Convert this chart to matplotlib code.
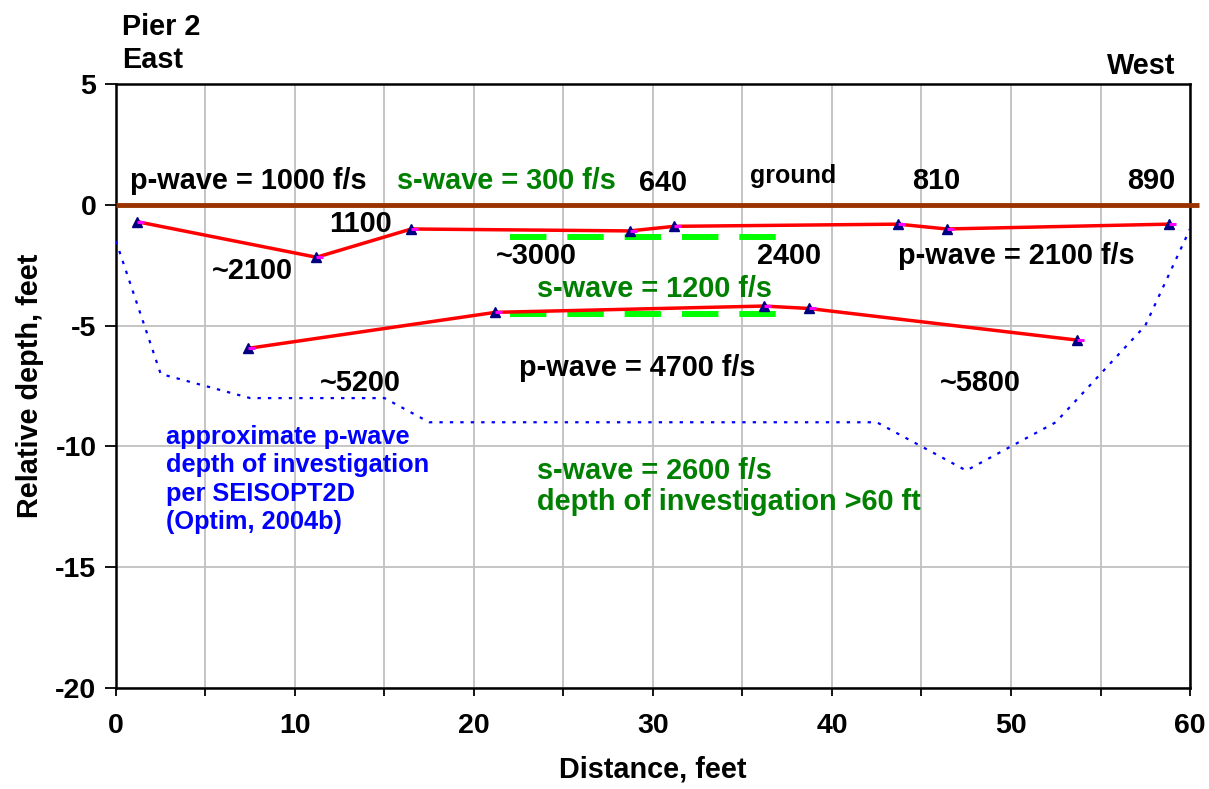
import numpy as np
import matplotlib.pyplot as plt
from matplotlib.ticker import MultipleLocator

plt.rcParams['font.family'] = ['Liberation Sans', 'DejaVu Sans']
plt.rcParams['font.weight'] = 'bold'
plt.rcParams['axes.unicode_minus'] = False

# upper refractor (p-wave picks)
upper_x = [1.2, 11.2, 16.5, 28.7, 31.2, 43.7, 46.4, 58.8]
upper_y = [-0.70, -2.17, -1.00, -1.08, -0.89, -0.80, -1.00, -0.80]
# lower refractor
lower_x = [7.4, 21.2, 36.2, 38.7, 53.7]
lower_y = [-5.94, -4.45, -4.19, -4.29, -5.60]
# s-wave boundaries
swave_x = [22.0, 37.0]
swave_upper_y = [-1.32, -1.32]
swave_lower_y = [-4.52, -4.52]
# approximate depth of investigation
doi_x = [0, 2.5, 7.5, 15, 17.5, 42.5, 47.5, 52.5, 57.5, 60]
doi_y = [-1.5, -7, -8, -8, -9, -9, -11, -9, -5, -1]
ground_x = [0, 60.5]
ground_y = [0, 0]

FS = 20.8

fig = plt.figure(figsize=(12.09, 7.89), dpi=100)
ax = fig.add_axes([0.0959, 0.128, 0.8884, 0.7655])

ax.set_xlim(0, 60)
ax.set_ylim(-20, 5)
ax.xaxis.set_major_locator(MultipleLocator(10))
ax.xaxis.set_minor_locator(MultipleLocator(5))
ax.yaxis.set_major_locator(MultipleLocator(5))
ax.grid(True, which='both', color='#c0c0c0', lw=1.3)
ax.set_axisbelow(True)
ax.tick_params(axis='both', which='both', direction='out', width=1.3, labelsize=20.5)
ax.tick_params(axis='x', which='both', length=6, pad=12)
ax.tick_params(axis='y', length=8, pad=6)
for s in ax.spines.values():
    s.set_linewidth(1.8)

ax.plot(ground_x, ground_y, color='#993300', lw=3.5, solid_capstyle='butt', clip_on=False, zorder=3)
ax.plot(doi_x, doi_y, color='#0000ff', lw=1.6, ls=(0, (1.5, 3.2)), zorder=3)

lw_s = 4.3
for yy in (swave_upper_y, swave_lower_y):
    ax.plot(swave_x, yy, color='#00ff00', lw=lw_s, ls=(0, (6.1, 3.5)), solid_capstyle='butt',
            dash_capstyle='butt', zorder=3)

tick_marker = [(0, 0), (1, 0)]
for xx, yy in ((upper_x, upper_y), (lower_x, lower_y)):
    ax.plot(xx, yy, color='#ff0000', lw=2.5, zorder=4)
    ax.plot(xx, yy, ls='none', marker='^', ms=7.5, mfc='#000080', mec='#000080', zorder=5)
    ax.plot(xx, yy, ls='none', marker=tick_marker, ms=10, mec='#ff00ff', mew=2.2, zorder=6)

txt = dict(fontsize=FS, fontweight='bold', va='center', ha='left')
ax.text(0.78, 0.98, 'p-wave = 1000 f/s', color='black', **txt)
ax.text(15.7, 0.98, 's-wave = 300 f/s', color='#008000', **txt)
ax.text(29.2, 0.9, '640', color='black', **txt)
ax.text(35.4, 1.2, 'ground', color='black', fontsize=18, fontweight='bold', va='center', ha='left')
ax.text(44.5, 1.0, '810', color='black', **txt)
ax.text(56.5, 1.0, '890', color='black', **txt)
ax.text(11.9, -0.79, '1100', color='black', **txt)
ax.text(5.35, -2.73, '~2100', color='black', **txt)
ax.text(21.2, -2.12, '~3000', color='black', **txt)
ax.text(35.8, -2.12, '2400', color='black', **txt)
ax.text(43.7, -2.12, 'p-wave = 2100 f/s', color='black', **txt)
ax.text(23.5, -3.49, 's-wave = 1200 f/s', color='#008000', **txt)
ax.text(22.5, -6.75, 'p-wave = 4700 f/s', color='black', **txt)
ax.text(11.4, -7.38, '~5200', color='black', **txt)
ax.text(46.0, -7.38, '~5800', color='black', **txt)
ax.text(2.8, -9.12, 'approximate p-wave\ndepth of investigation\nper SEISOPT2D\n(Optim, 2004b)',
        color='#0000ff', fontsize=18.3, fontweight='bold', va='top', ha='left', linespacing=1.22)
ax.text(23.5, -10.45, 's-wave = 2600 f/s\ndepth of investigation >60 ft', color='#008000',
        fontsize=FS, fontweight='bold', va='top', ha='left', linespacing=1.12)
ax.text(0.33, 7.36, 'Pier 2', color='black', clip_on=False, **txt)
ax.text(0.33, 6.0, 'East', color='black', clip_on=False, **txt)
ax.text(59.2, 5.74, 'West', color='black', fontsize=FS, fontweight='bold', va='center', ha='right',
        clip_on=False)

ax.set_xlabel('Distance, feet', fontsize=FS, fontweight='bold', labelpad=12)
ax.set_ylabel('Relative depth, feet', fontsize=FS, fontweight='bold', labelpad=8)

fig.savefig('out.png', dpi=100)
